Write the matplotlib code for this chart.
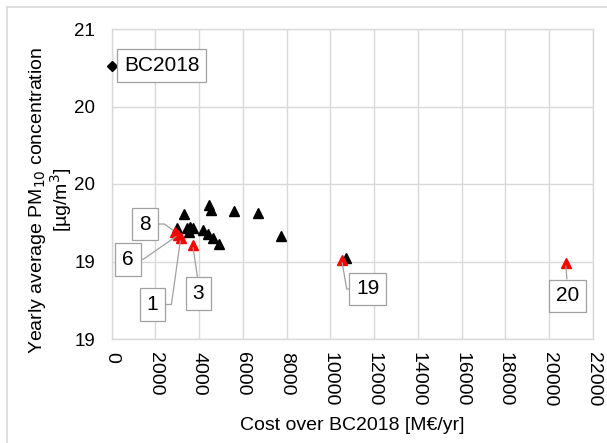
import matplotlib
matplotlib.use("Agg")
import matplotlib.pyplot as plt
from matplotlib.lines import Line2D
from matplotlib.ticker import FuncFormatter

plt.rcParams['font.family'] = ['Liberation Sans', 'DejaVu Sans']

# ---- data ----
base_label = "BC2018"
base_cost = [0]
base_pm = [20.41]

black_cost = [3318, 4461, 4538, 5590, 6700, 7738, 2998, 3428, 3579, 3729,
              3547, 4186, 4415, 4616, 4918, 10708]
black_pm = [19.644, 19.692, 19.666, 19.662, 19.652, 19.532, 19.571, 19.571,
            19.576, 19.571, 19.551, 19.563, 19.540, 19.520, 19.489, 19.416]

red_labels = ["8", "6", "1", "3", "19", "20"]
red_cost = [2893, 3044, 3154, 3702, 10512, 20750]
red_pm = [19.554, 19.537, 19.520, 19.485, 19.408, 19.391]

x_ticks = list(range(0, 22001, 2000))
y_ticks = [19.0, 19.4, 19.8, 20.2, 20.6]

# ---- figure ----
fig = plt.figure(figsize=(6.07, 4.43), dpi=100)
ax = fig.add_axes([111.7 / 607, 1 - 339 / 443, (593 - 111.7) / 607, (339 - 29) / 443])

grid_c = '#d9d9d9'
ax.set_xlim(0, 22000)
ax.set_ylim(19.0, 20.6)
ax.set_xticks(x_ticks)
ax.set_yticks(y_ticks)
ax.yaxis.set_major_formatter(FuncFormatter(lambda v, p: f"{v:.0f}"))
ax.grid(True, color=grid_c, linewidth=1.0)
ax.set_axisbelow(True)
for s in ax.spines.values():
    s.set_color(grid_c)
    s.set_linewidth(1.0)
ax.tick_params(axis='both', length=0, colors='#000000')
ax.tick_params(axis='x', pad=9, labelsize=14)
ax.tick_params(axis='y', pad=12, labelsize=13.5)
for lab in ax.get_xticklabels():
    lab.set_rotation(-90)
    lab.set_va('top')
    lab.set_ha('center')

ax.set_xlabel("Cost over BC2018 [M€/yr]", fontsize=14, labelpad=8)
ax.set_ylabel("Yearly average PM$_{10}$ concentration\n[µg/m$^3$]", fontsize=14,
              linespacing=1.0)
ax.yaxis.set_label_coords(-0.078, 0.448)

# points
ax.plot(base_cost, base_pm, linestyle='none', marker='D', ms=5.5, color='black',
        clip_on=False, zorder=3)
ax.plot(black_cost, black_pm, linestyle='none', marker='^', ms=7.5, color='black',
        zorder=3)
ax.plot(red_cost, red_pm, linestyle='none', marker='^', ms=7.5, color='#ff0000',
        zorder=4)

box = dict(boxstyle='square,pad=0.33', fc='white', ec='#a0a0a0', lw=0.9)
ax.annotate(base_label, (base_cost[0], base_pm[0]), xytext=(36, 0),
            textcoords='offset points', ha='center', va='center', fontsize=15,
            bbox=box, zorder=5)

# label offsets (points), leader attach position on box and connection
offsets = [(-21.6, 5.5), (-36.2, -17.6), (-20.3, -47.7), (4.2, -34.9),
           (18.6, -20.9), (1.3, -23.5)]
relpos = [(1, 0.5), (1, 0.5), (1, 0.5), (0.5, 1), (0, 0.5), (0.5, 1)]
conns = ["angle,angleA=0,angleB=-35.7,rad=0",
         "angle,angleA=0,angleB=34.8,rad=0",
         "angle,angleA=0,angleB=82,rad=0",
         "arc3,rad=0",
         "angle,angleA=0,angleB=99.8,rad=0",
         "arc3,rad=0"]
for lab, cx, cy, off, rp, cs in zip(red_labels, red_cost, red_pm, offsets, relpos, conns):
    ax.annotate(lab, (cx, cy), xytext=off, textcoords='offset points',
                ha='center', va='center', fontsize=15, bbox=box, zorder=5,
                arrowprops=dict(arrowstyle='-', color='#a0a0a0', lw=0.9,
                                shrinkA=0, shrinkB=2, relpos=rp,
                                connectionstyle=cs))

# outer chart border (only left and top visible in the crop)
fig.add_artist(Line2D([7 / 607, 7 / 607], [0, 1 - 7 / 443], transform=fig.transFigure,
                      color=grid_c, lw=1.2))
fig.add_artist(Line2D([7 / 607, 1], [1 - 7 / 443, 1 - 7 / 443], transform=fig.transFigure,
                      color=grid_c, lw=1.2))

fig.savefig("out.png", dpi=100)
